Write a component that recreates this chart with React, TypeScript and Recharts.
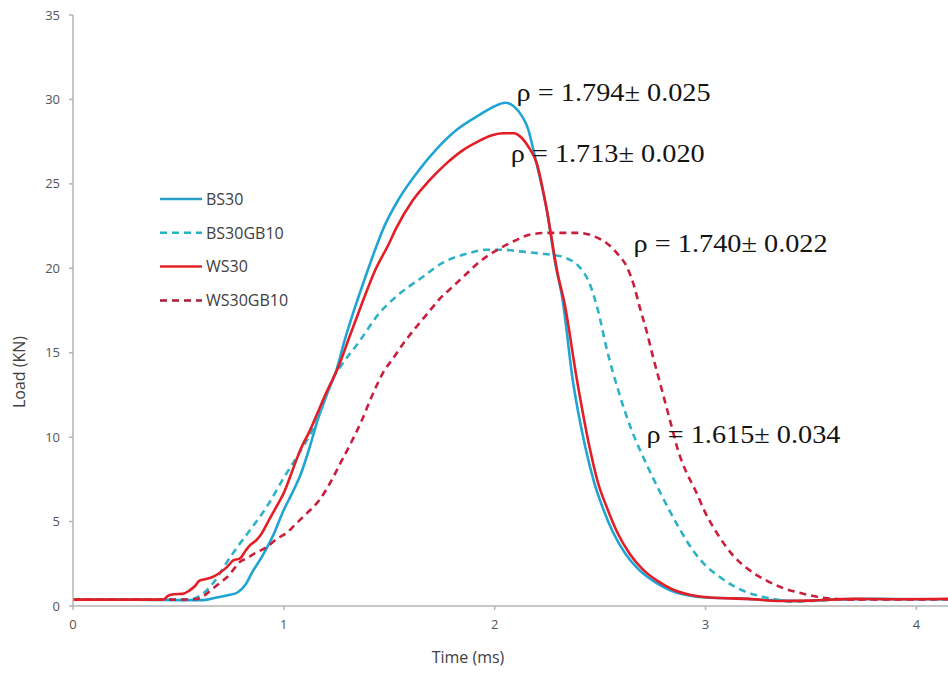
import { LineChart, Line, XAxis, YAxis, Legend, ReferenceDot } from "recharts";

// time (ms) / load (kN) pairs
const BS30: [number, number][] = [
  [0, 0.38], [0.3, 0.38], [0.55, 0.35], [0.62, 0.35], [0.68, 0.5], [0.74, 0.65], [0.78, 0.8],
  [0.82, 1.3], [0.85, 2.0], [0.9, 3.0], [0.95, 4.2], [1.0, 5.7], [1.04, 6.7], [1.08, 7.8],
  [1.12, 9.3], [1.16, 11.0], [1.2, 12.4], [1.25, 14.0], [1.29, 15.8], [1.33, 17.4], [1.39, 19.6],
  [1.43, 21.0], [1.47, 22.3], [1.55, 24.2], [1.64, 25.8], [1.72, 27.0], [1.82, 28.2], [1.93, 29.1],
  [2.0, 29.6], [2.05, 29.8], [2.09, 29.6], [2.13, 29.0], [2.16, 28.2], [2.18, 27.2], [2.21, 25.6],
  [2.245, 23.6], [2.29, 20.1], [2.32, 18.3], [2.37, 13.4], [2.43, 9.4], [2.47, 7.4], [2.51, 5.9],
  [2.56, 4.4], [2.62, 3.1], [2.68, 2.2], [2.75, 1.5], [2.83, 0.95], [2.91, 0.65], [3.0, 0.5],
  [3.15, 0.45], [3.3, 0.35], [3.45, 0.3], [3.6, 0.38], [3.8, 0.42], [4.0, 0.4], [4.15, 0.4],
];

const BS30GB10: [number, number][] = [
  [0, 0.38], [0.4, 0.38], [0.55, 0.38], [0.6, 0.6], [0.64, 1.0], [0.69, 1.8], [0.73, 2.6],
  [0.78, 3.5], [0.84, 4.5], [0.92, 5.9], [1.0, 7.6], [1.08, 9.2], [1.15, 10.8], [1.2, 12.4],
  [1.23, 13.4], [1.27, 14.2], [1.36, 15.7], [1.45, 17.3], [1.55, 18.5], [1.66, 19.5], [1.75, 20.3],
  [1.88, 20.9], [1.96, 21.1], [2.04, 21.1], [2.12, 21.0], [2.2, 20.9], [2.27, 20.8], [2.34, 20.6],
  [2.4, 20.1], [2.45, 19.1], [2.49, 17.5], [2.53, 15.3], [2.59, 12.6], [2.65, 10.4], [2.72, 8.4],
  [2.79, 6.6], [2.88, 4.5], [2.94, 3.3], [3.0, 2.4], [3.07, 1.7], [3.13, 1.2], [3.2, 0.8],
  [3.27, 0.55], [3.35, 0.35], [3.41, 0.25], [3.5, 0.3], [3.7, 0.4], [4.15, 0.4],
];

const WS30: [number, number][] = [
  [0, 0.38], [0.3, 0.38], [0.43, 0.38], [0.45, 0.6], [0.48, 0.7], [0.52, 0.72], [0.55, 0.9],
  [0.58, 1.2], [0.6, 1.5], [0.63, 1.6], [0.66, 1.7], [0.7, 2.0], [0.73, 2.3], [0.76, 2.7],
  [0.79, 2.8], [0.82, 3.3], [0.84, 3.6], [0.87, 3.9], [0.89, 4.2], [0.93, 5.1], [0.97, 6.0],
  [1.0, 6.7], [1.04, 8.0], [1.08, 9.3], [1.12, 10.3], [1.2, 12.6], [1.26, 14.2], [1.31, 15.9],
  [1.37, 17.9], [1.43, 19.8], [1.5, 21.5], [1.53, 22.3], [1.61, 24.0], [1.69, 25.2], [1.77, 26.2],
  [1.85, 27.0], [1.92, 27.5], [1.98, 27.85], [2.04, 28.0], [2.09, 28.0], [2.13, 27.7], [2.16, 27.2],
  [2.2, 26.2], [2.245, 23.6], [2.3, 19.6], [2.33, 18.0], [2.39, 13.4], [2.45, 9.4], [2.49, 7.3],
  [2.53, 5.9], [2.58, 4.4], [2.64, 3.1], [2.7, 2.2], [2.77, 1.5], [2.85, 0.95], [2.93, 0.65],
  [3.02, 0.5], [3.2, 0.42], [3.35, 0.3], [3.5, 0.32], [3.7, 0.42], [3.9, 0.4], [4.15, 0.42],
];

const WS30GB10: [number, number][] = [
  [0, 0.38], [0.5, 0.38], [0.58, 0.4], [0.62, 0.6], [0.66, 1.0], [0.7, 1.4], [0.73, 1.7],
  [0.77, 2.3], [0.79, 2.6], [0.82, 2.8], [0.86, 3.1], [0.92, 3.5], [0.97, 4.0], [1.01, 4.3],
  [1.06, 4.9], [1.11, 5.5], [1.17, 6.3], [1.22, 7.3], [1.27, 8.5], [1.32, 9.7], [1.37, 11.0],
  [1.42, 12.5], [1.47, 13.8], [1.52, 14.7], [1.57, 15.6], [1.62, 16.4], [1.68, 17.3], [1.74, 18.2],
  [1.8, 18.9], [1.86, 19.6], [1.93, 20.4], [2.0, 21.0], [2.09, 21.6], [2.17, 22.0], [2.25, 22.1],
  [2.33, 22.1], [2.4, 22.1], [2.47, 21.9], [2.53, 21.5], [2.58, 20.9], [2.63, 20.0], [2.66, 19.0],
  [2.69, 17.6], [2.72, 16.3], [2.75, 14.8], [2.78, 13.4], [2.81, 12.0], [2.84, 10.6], [2.87, 9.2],
  [2.91, 7.9], [2.95, 6.9], [3.0, 5.5], [3.06, 4.2], [3.13, 3.0], [3.2, 2.2], [3.29, 1.5],
  [3.37, 1.05], [3.45, 0.77], [3.57, 0.47], [3.7, 0.38], [4.15, 0.4],
];

const TIME_TICKS = [0, 1, 2, 3, 4];
const LOAD_TICKS = [0, 5, 10, 15, 20, 25, 30, 35];

// density callouts, anchored at the left end of each text baseline
const NOTE_TEXT = ["ρ = 1.794± 0.025", "ρ = 1.713± 0.020", "ρ = 1.740± 0.022", "ρ = 1.615± 0.034"];
const NOTE_TIME = [2.104, 2.076, 2.659, 2.72];
const NOTE_LOAD = [29.9, 26.3, 20.96, 9.65];

const SERIES = [
  { name: "BS30", points: BS30, color: "#1fa4d3", key: "#2a9fc4", dash: undefined },
  { name: "BS30GB10", points: BS30GB10, color: "#2db2c6", key: "#22b3c0", dash: "7 5" },
  { name: "WS30GB10", points: WS30GB10, color: "#c91f3d", key: "#a81c34", dash: "7 5" },
  { name: "WS30", points: WS30, color: "#e41e26", key: "#e0262a", dash: undefined },
];
const KEY_ORDER = ["BS30", "BS30GB10", "WS30", "WS30GB10"];

const AXIS = "#b4b4b4";
const TICK_TEXT = "#555555";
const SANS = "'Open Sans', 'DejaVu Sans', sans-serif";
const SERIF = "'Liberation Serif', 'Times New Roman', serif";

const toRows = (pts: [number, number][]) => pts.map(([t, load]) => ({ t, load }));

function SeriesKey() {
  return (
    <svg width={150} height={130}>
      {KEY_ORDER.map((name, i) => {
        const s = SERIES.find((x) => x.name === name)!;
        const y = 12 + i * 33.8;
        return (
          <g key={name}>
            <line x1={0} x2={42} y1={y} y2={y} stroke={s.key} strokeWidth={2.5} strokeDasharray={s.dash} />
            <text x={46} y={y + 5.8} fontSize={16} fill="#404040" fontFamily={SANS}>
              {name}
            </text>
          </g>
        );
      })}
    </svg>
  );
}

export default function App() {
  return (
    <div style={{ position: "absolute", left: 0, top: 0, background: "#fff" }}>
      <LineChart width={948} height={674} margin={{ top: 15, right: 0, left: 13, bottom: 18 }}>
        <XAxis
          type="number"
          dataKey="t"
          domain={[0, 4.15]}
          ticks={TIME_TICKS}
          allowDataOverflow
          height={50}
          stroke={AXIS}
          strokeWidth={1.5}
          tickSize={4}
          tickMargin={10}
          tick={{ fill: TICK_TEXT, fontSize: 13, fontFamily: SANS }}
          label={(p: any) => (
            <text
              x={p.viewBox.x + 395}
              y={p.viewBox.y + 57}
              textAnchor="middle"
              fontSize={16}
              fill="#404040"
              fontFamily={SANS}
            >
              Time (ms)
            </text>
          )}
        />
        <YAxis
          type="number"
          domain={[0, 35]}
          ticks={LOAD_TICKS}
          width={60}
          stroke={AXIS}
          strokeWidth={1.5}
          tickSize={4}
          tickMargin={9}
          tick={{ fill: TICK_TEXT, fontSize: 13, fontFamily: SANS }}
          label={(p: any) => {
            const cx = p.viewBox.x + 6;
            const cy = p.viewBox.y + 357;
            return (
              <text
                x={cx}
                y={cy}
                transform={`rotate(-90, ${cx}, ${cy})`}
                textAnchor="middle"
                dominantBaseline="central"
                fontSize={16}
                fill="#404040"
                fontFamily={SANS}
              >
                Load (KN)
              </text>
            );
          }}
        />
        <Legend
          layout="vertical"
          align="center"
          verticalAlign="middle"
          content={() => <SeriesKey />}
          wrapperStyle={{ left: 160, top: 187, width: 150 }}
        />
        {SERIES.map((s) => (
          <Line
            key={s.name}
            name={s.name}
            data={toRows(s.points)}
            dataKey="load"
            type="monotone"
            stroke={s.color}
            strokeWidth={2.6}
            strokeDasharray={s.dash}
            dot={false}
            activeDot={false}
            isAnimationActive={false}
          />
        ))}
        {NOTE_TEXT.map((text, i) => (
          <ReferenceDot
            key={text}
            x={NOTE_TIME[i]}
            y={NOTE_LOAD[i]}
            r={0}
            fill="none"
            stroke="none"
            label={(p: any) => (
              <text
                x={p.viewBox.x}
                y={p.viewBox.y}
                fontSize={25}
                fill="#141414"
                fontFamily={SERIF}
                textLength={194}
                lengthAdjust="spacingAndGlyphs"
              >
                {text}
              </text>
            )}
          />
        ))}
      </LineChart>
    </div>
  );
}
